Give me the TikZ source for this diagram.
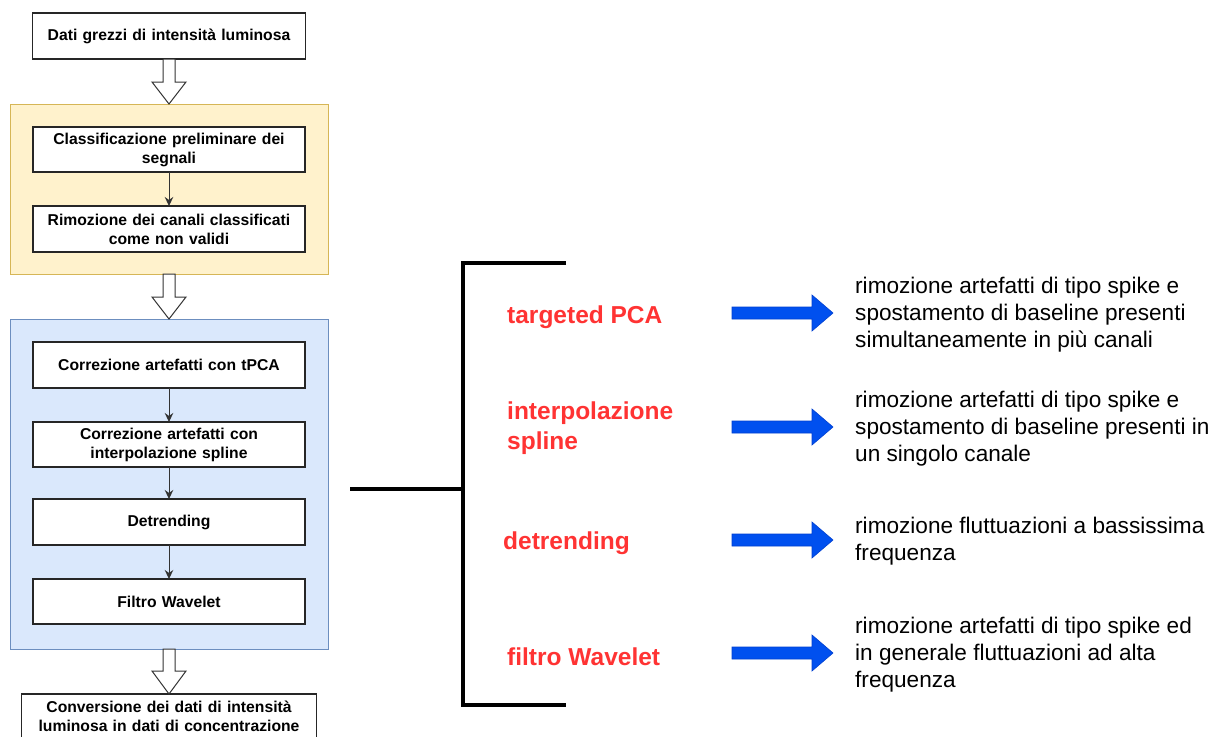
\documentclass[tikz,border=0pt]{standalone}
\usepackage{fontspec}
\setmainfont{Liberation Sans}
\usetikzlibrary{calc,arrows.meta}
\definecolor{yfill}{HTML}{FFF2CC}
\definecolor{ydraw}{HTML}{D6B656}
\definecolor{bfill}{HTML}{DAE8FC}
\definecolor{bdraw}{HTML}{6C8EBF}
\definecolor{lblred}{HTML}{FF3333}
\definecolor{arrblue}{HTML}{0050EF}
\definecolor{arrbluedk}{HTML}{0040D0}
\newcommand\hollowarrow[3]{%
  \draw[hollow] ($(#1.south)+(-6,0)$) -- ($(#2.north)+(-6,-#3)$) -- ($(#2.north)+(-17,-#3)$)
    -- (#2.north) -- ($(#2.north)+(17,-#3)$) -- ($(#2.north)+(6,-#3)$) -- ($(#1.south)+(6,0)$) -- cycle;}
\newcommand\bluearrow[2]{%
  \coordinate (#1) at (732,#2);
  \filldraw[barrow] ($(#1)+(0,-6)$) -- ($(#1)+(80,-6)$) -- ($(#1)+(80,-18)$) -- ($(#1)+(101,0)$)
    -- ($(#1)+(80,18)$) -- ($(#1)+(80,6)$) -- ($(#1)+(0,6)$) -- cycle;}
\begin{document}
\begin{tikzpicture}[x=1pt,y=-1pt,
  box/.style={draw=black!85, fill=white, line width=1.2pt, minimum width=272pt, minimum height=46pt,
    inner sep=0pt, outer sep=0pt, align=center, text width=262pt,
    font=\fontsize{15.7}{19}\selectfont\bfseries},
  group/.style={line width=1pt, minimum width=318pt, inner sep=0pt, outer sep=0pt},
  hollow/.style={draw=black!80, fill=white, line width=1pt, line join=miter},
  small/.style={draw=black!80, line width=1pt, -{Stealth[length=9pt,width=8.5pt]}},
  barrow/.style={fill=arrblue, draw=arrbluedk, line width=0.6pt},
  lbl/.style={text=lblred, inner sep=0pt, align=left, font=\fontsize{24.5}{30}\selectfont\bfseries},
  desc/.style={text=black, inner sep=0pt, align=left, font=\fontsize{22.6}{27}\selectfont},
  brk/.style={line width=4pt, line join=miter}]
\useasboundingbox (0,0) rectangle (1220,736);
\clip (0,0) rectangle (1220,736);
\fill[white] (0,0) rectangle (1220,736);

% left flow
\node[box, minimum width=273pt] (top) at (169,36) {Dati grezzi di intensità luminosa};
\node[group, draw=ydraw, fill=yfill, minimum height=170pt] (grpY) at (169,189) {};
\node[box, minimum height=45pt] (c1) at (169,149.5) {Classificazione preliminare dei\\segnali};
\node[box] (c2) at (169,229) {Rimozione dei canali classificati\\come non validi};
\node[group, draw=bdraw, fill=bfill, minimum height=330pt] (grpB) at (169,484) {};
\node[box] (b1) at (169,365) {Correzione artefatti con tPCA};
\node[box, minimum height=45pt] (b2) at (169,444.5) {Correzione artefatti con\\interpolazione spline};
\node[box] (b3) at (169,522) {Detrending};
\node[box, minimum height=45pt] (b4) at (169,601.5) {Filtro Wavelet};
\node[box, minimum width=295pt, minimum height=45pt, text width=290pt] (fin) at (169,716.5)
  {Conversione dei dati di intensità\\luminosa in dati di concentrazione};

\draw[small] (c1) -- (c2);
\draw[small] (b1) -- (b2);
\draw[small] (b2) -- (b3);
\draw[small] (b3) -- (b4);

\hollowarrow{top}{grpY}{22}
\hollowarrow{grpY}{grpB}{22}
\hollowarrow{grpB}{fin}{23}

% bracket
\coordinate (brL) at (350,489);
\coordinate (brM) at (463,489);
\coordinate (brT) at (566,263);
\coordinate (brB) at (566,705);
\draw[brk] (brT) -- (brT -| brM) -- (brB -| brM) -- (brB);
\draw[brk] (brL) -- (brM);

% labels
\node[lbl, anchor=west] (l1) at (507,317) {targeted PCA};
\node[lbl, anchor=west] (l2) at (507,428) {interpolazione\\spline};
\node[lbl, anchor=west] (l3) at (503,543) {detrending};
\node[lbl, anchor=west] (l4) at (507,657) {filtro Wavelet};

% arrows
\bluearrow{a1}{313}
\bluearrow{a2}{427}
\bluearrow{a3}{540}
\bluearrow{a4}{653}

% descriptions
\node[desc, anchor=west] (d1) at (855,315) {rimozione artefatti di tipo spike e\\spostamento di baseline presenti\\simultaneamente in più canali};
\node[desc, anchor=west] (d2) at (855,428.5) {rimozione artefatti di tipo spike e\\spostamento di baseline presenti in\\un singolo canale};
\node[desc, anchor=west] (d3) at (855,541.5) {rimozione fluttuazioni a bassissima\\frequenza};
\node[desc, anchor=west] (d4) at (855,655) {rimozione artefatti di tipo spike ed\\in generale fluttuazioni ad alta\\frequenza};
\end{tikzpicture}
\end{document}
